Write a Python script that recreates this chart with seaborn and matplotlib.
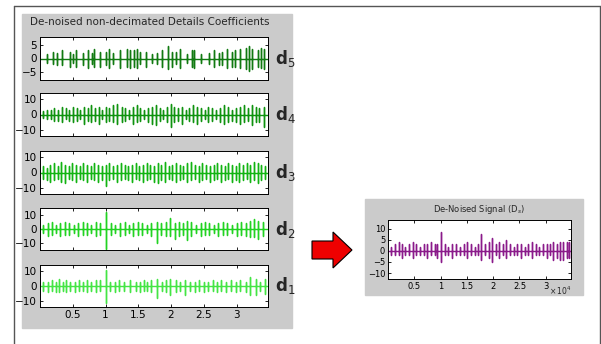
import matplotlib
matplotlib.use("Agg")
import matplotlib.pyplot as plt
import seaborn as sns
import pandas as pd
from matplotlib.patches import Rectangle, Polygon
from matplotlib.lines import Line2D

# spike positions (x 10^4 samples) and their upper / lower excursions
x5 = [0.10,0.20,0.26,0.33,0.46,0.51,0.55,0.66,0.74,0.79,0.83,0.92,1.01,1.05,1.12,1.22,1.33,1.38,1.43,1.48,1.53,1.62,1.71,1.78,1.86,1.96,2.02,2.07,2.14,2.24,2.32,2.35,2.45,2.58,2.65,2.73,2.78,2.86,2.93,2.98,3.06,3.14,3.19,3.24,3.32,3.37,3.42]
hi5 = [1.5,2.5,2.0,3.0,2.5,1.5,3.0,2.0,3.0,2.0,3.5,2.5,2.5,3.5,2.0,3.0,3.5,3.0,3.0,3.5,2.5,2.5,1.5,2.0,3.0,4.5,2.5,2.5,3.5,1.5,3.0,3.0,1.5,2.0,3.0,2.0,2.5,3.5,2.5,3.0,3.5,4.0,4.5,3.5,3.0,4.0,3.5]
lo5 = [-1.5,-2.0,-2.5,-2.5,-3.0,-1.5,-3.0,-2.5,-3.5,-2.0,-3.0,-3.0,-2.5,-3.5,-2.0,-3.5,-3.0,-3.5,-3.0,-3.5,-2.0,-3.0,-1.5,-2.0,-3.0,-4.0,-3.0,-2.0,-3.5,-1.5,-3.0,-3.5,-1.5,-2.0,-3.0,-2.5,-2.5,-3.5,-3.0,-3.0,-3.5,-4.0,-4.5,-4.0,-3.0,-3.5,-4.0]

x4 = [0.05,0.11,0.17,0.22,0.28,0.33,0.39,0.45,0.50,0.56,0.61,0.67,0.73,0.78,0.84,0.90,0.95,1.01,1.06,1.12,1.18,1.25,1.30,1.36,1.42,1.48,1.53,1.59,1.65,1.71,1.77,1.83,1.88,1.94,2.00,2.05,2.11,2.17,2.23,2.28,2.34,2.40,2.46,2.52,2.57,2.63,2.69,2.75,2.81,2.87,2.93,2.99,3.05,3.11,3.17,3.23,3.29,3.35,3.42]
hi4 = [2,3,3,4,3,5,4,3,5,4,3,5,4,6,4,5,3,5,4,6,7,5,4,3,5,6,4,3,4,5,6,4,3,5,7,5,4,5,3,4,6,5,4,3,5,4,3,4,6,5,3,4,5,6,4,6,5,4,5]
lo4 = [-2,-3,-3,-4,-4,-5,-3,-4,-5,-4,-3,-6,-4,-5,-4,-6,-3,-5,-4,-5,-6,-5,-4,-3,-6,-5,-4,-3,-5,-6,-7,-4,-3,-5,-8,-5,-4,-6,-3,-4,-5,-6,-4,-3,-5,-4,-3,-5,-6,-5,-4,-5,-6,-5,-4,-7,-5,-5,-8]

x3 = [0.04,0.10,0.15,0.21,0.27,0.32,0.38,0.44,0.49,0.55,0.61,0.66,0.72,0.78,0.83,0.89,0.95,1.00,1.06,1.12,1.17,1.23,1.29,1.34,1.40,1.46,1.51,1.57,1.63,1.68,1.74,1.80,1.85,1.91,1.97,2.02,2.08,2.14,2.19,2.25,2.31,2.36,2.42,2.48,2.53,2.59,2.65,2.70,2.76,2.82,2.87,2.93,2.99,3.04,3.10,3.16,3.21,3.27,3.33,3.38,3.44]
hi3 = [4,3,5,6,4,7,5,4,6,5,4,6,5,4,6,5,4,5,6,4,5,6,5,4,5,6,4,5,6,5,4,6,5,7,4,5,6,5,4,6,7,5,4,6,5,4,5,6,5,4,6,5,4,6,5,6,5,7,6,5,4]
lo3 = [-4,-5,-6,-5,-4,-6,-7,-4,-5,-6,-4,-5,-6,-4,-5,-6,-5,-9,-5,-4,-6,-5,-4,-5,-6,-4,-5,-6,-5,-4,-6,-7,-5,-6,-4,-5,-6,-5,-4,-6,-5,-4,-6,-5,-4,-6,-5,-4,-6,-5,-4,-6,-5,-6,-5,-4,-6,-5,-7,-5,-4]

x2 = [0.05,0.12,0.18,0.25,0.31,0.38,0.45,0.52,0.58,0.65,0.72,0.78,0.85,0.92,1.01,1.08,1.15,1.22,1.29,1.36,1.42,1.49,1.56,1.63,1.70,1.79,1.85,1.92,1.99,2.06,2.12,2.18,2.24,2.31,2.38,2.45,2.52,2.58,2.65,2.72,2.79,2.86,2.93,3.00,3.07,3.14,3.21,3.26,3.32,3.40]
hi2 = [3,4,5,3,4,5,4,3,4,5,4,3,5,4,12,4,3,4,5,3,4,5,4,3,4,5,4,5,8,4,5,4,6,5,3,4,5,4,3,4,5,4,3,4,5,4,6,7,6,5]
lo2 = [-3,-5,-4,-3,-5,-4,-4,-3,-5,-4,-4,-3,-5,-4,-14,-4,-3,-5,-4,-3,-5,-4,-4,-3,-5,-10,-4,-5,-5,-7,-5,-4,-8,-5,-3,-5,-4,-4,-3,-5,-4,-4,-3,-5,-4,-5,-6,-6,-7,-5]

x1 = [0.05,0.12,0.18,0.24,0.29,0.35,0.40,0.46,0.53,0.60,0.66,0.72,0.78,0.86,0.92,1.00,1.07,1.14,1.20,1.28,1.38,1.46,1.52,1.58,1.64,1.70,1.78,1.86,1.93,1.99,2.07,2.14,2.22,2.29,2.36,2.42,2.50,2.57,2.64,2.70,2.77,2.84,2.91,2.99,3.06,3.14,3.21,3.30,3.36,3.44]
hi1 = [3,3,4,3,5,3,4,3,3,4,3,4,3,4,4,11,3,3,4,3,4,3,3,4,3,4,5,3,4,5,4,3,4,3,3,4,3,3,4,3,4,3,4,3,4,3,6,5,3,5]
lo1 = [-3,-4,-3,-4,-4,-3,-4,-3,-4,-3,-3,-4,-3,-4,-3,-11,-3,-4,-3,-3,-4,-3,-4,-3,-3,-4,-8,-3,-4,-6,-4,-3,-6,-3,-4,-3,-4,-3,-3,-4,-3,-4,-3,-4,-3,-4,-6,-6,-3,-5]

xs = [0.06,0.13,0.20,0.27,0.33,0.40,0.47,0.54,0.61,0.68,0.75,0.82,0.89,0.94,1.00,1.08,1.15,1.22,1.30,1.37,1.44,1.51,1.58,1.65,1.71,1.77,1.85,1.92,1.98,2.05,2.12,2.18,2.25,2.32,2.39,2.46,2.53,2.60,2.67,2.74,2.81,2.88,2.95,3.02,3.09,3.14,3.21,3.27,3.33,3.40,3.45]
his = [2,3,4,3,2,3,4,3,2,3,3,4,3,3,8.5,3,2,3,3,2,3,4,3,2,3,7.5,3,4,6,3,4,3,5,3,2,3,3,2,3,4,3,2,3,3,3,4,3,4,4,4,4]
los = [-2,-2,-2,-3,-2,-2,-3,-2,-2,-2,-3,-2,-2,-3,-5,-2,-2,-3,-2,-2,-2,-3,-2,-2,-2,-4,-2,-3,-5,-2,-3,-2,-3,-2,-2,-2,-3,-2,-2,-3,-2,-2,-2,-3,-2,-4,-3,-4,-4,-3,-3]

x_end = 3.48
xticks = [0.5, 1, 1.5, 2, 2.5, 3]
details = [("5", x5, hi5, lo5, "#117a11", 8, [-5, 0, 5]),
           ("4", x4, hi4, lo4, "#0f930f", 14, [-10, 0, 10]),
           ("3", x3, hi3, lo3, "#12b412", 14, [-10, 0, 10]),
           ("2", x2, hi2, lo2, "#22d322", 15, [-10, 0, 10]),
           ("1", x1, hi1, lo1, "#44e544", 14, [-10, 0, 10])]

GRAY = "#cbcbcb"
W, H = 601, 344


def trace(xv, hv, lv):
    # zero baseline with a vertical excursion at every spike
    px, py = [0.0], [0.0]
    for x, h, l in zip(xv, hv, lv):
        px += [x, x, x, x]
        py += [0, h, l, 0]
    px.append(x_end)
    py.append(0)
    return pd.DataFrame({"x": px, "y": py})


def style_ax(ax, ylim, yticks):
    ax.set_xlim(0, x_end)
    ax.set_ylim(-ylim, ylim)
    ax.set_xticks(xticks)
    ax.set_yticks(yticks)
    ax.set_facecolor("white")
    ax.set_xlabel("")
    ax.set_ylabel("")
    ax.tick_params(direction="in", top=True, right=True, length=2.5, width=0.6,
                   labelsize=7.5, pad=2, colors="black")
    for s in ax.spines.values():
        s.set_linewidth(0.7)
        s.set_color("black")


sns.set_style("ticks")
fig = plt.figure(figsize=(W / 100, H / 100), dpi=100)


def box(px0, py0, px1, py1):
    return [px0 / W, 1 - py1 / H, (px1 - px0) / W, (py1 - py0) / H]


# outer frame and gray panels
fig.add_artist(Line2D([14 / W, 14 / W], [0, 1 - 6 / H], color="#555555", lw=1))
fig.add_artist(Line2D([14 / W, 600 / W], [1 - 6 / H, 1 - 6 / H], color="#555555", lw=1))
fig.add_artist(Line2D([600 / W, 600 / W], [0, 1 - 6 / H], color="#555555", lw=1))
b = box(22, 14, 292, 328)
fig.add_artist(Rectangle((b[0], b[1]), b[2], b[3], transform=fig.transFigure, color=GRAY, zorder=0))
b = box(365, 199, 583, 295)
fig.add_artist(Rectangle((b[0], b[1]), b[2], b[3], transform=fig.transFigure, color=GRAY, zorder=0))

fig.text(150 / W, 1 - 22 / H, "De-noised non-decimated Details Coefficients",
         ha="center", va="center", fontsize=7.5)

tops = [37, 93, 151, 208, 265]
bots = [80, 136, 194, 250, 307]
for (lev, xv, hv, lv, col, ylim, yt), t, bt in zip(details, tops, bots):
    ax = fig.add_axes(box(40, t, 268, bt))
    sns.lineplot(data=trace(xv, hv, lv), x="x", y="y", sort=False, estimator=None,
                 color=col, lw=1.0, ax=ax)
    style_ax(ax, ylim, yt)
    if lev != "1":
        ax.set_xticklabels([])
    else:
        ax.set_xticklabels(["0.5", "1", "1.5", "2", "2.5", "3"])
    fig.text(275 / W, 1 - (t + bt) / 2 / H, "d$_{" + lev + "}$", fontsize=12,
             fontweight="bold", ha="left", va="center")

# red arrow
arrow = [(312, 241), (333, 241), (333, 232), (352, 250), (333, 268), (333, 259), (312, 259)]
fig.add_artist(Polygon([(px / W, 1 - py / H) for px, py in arrow], closed=True,
                       transform=fig.transFigure, facecolor="#ee0000", edgecolor="black", lw=0.8))

# de-noised signal
ax = fig.add_axes(box(388, 220, 571, 279))
sns.lineplot(data=trace(xs, his, los), x="x", y="y", sort=False, estimator=None,
             color="#8a1a8a", lw=1.0, ax=ax)
style_ax(ax, 13, [-10, -5, 0, 5, 10])
ax.set_ylim(-12.7, 14)
ax.set_xticklabels(["0.5", "1", "1.5", "2", "2.5", "3"])
ax.tick_params(labelsize=6)
fig.text(479 / W, 1 - 210 / H, "De-Noised Signal (D$_s$)", ha="center", va="center", fontsize=6)
fig.text(560 / W, 1 - 291 / H, r"$\times\,10^4$", ha="center", va="center", fontsize=5.5)

fig.savefig("out.png", dpi=100)
